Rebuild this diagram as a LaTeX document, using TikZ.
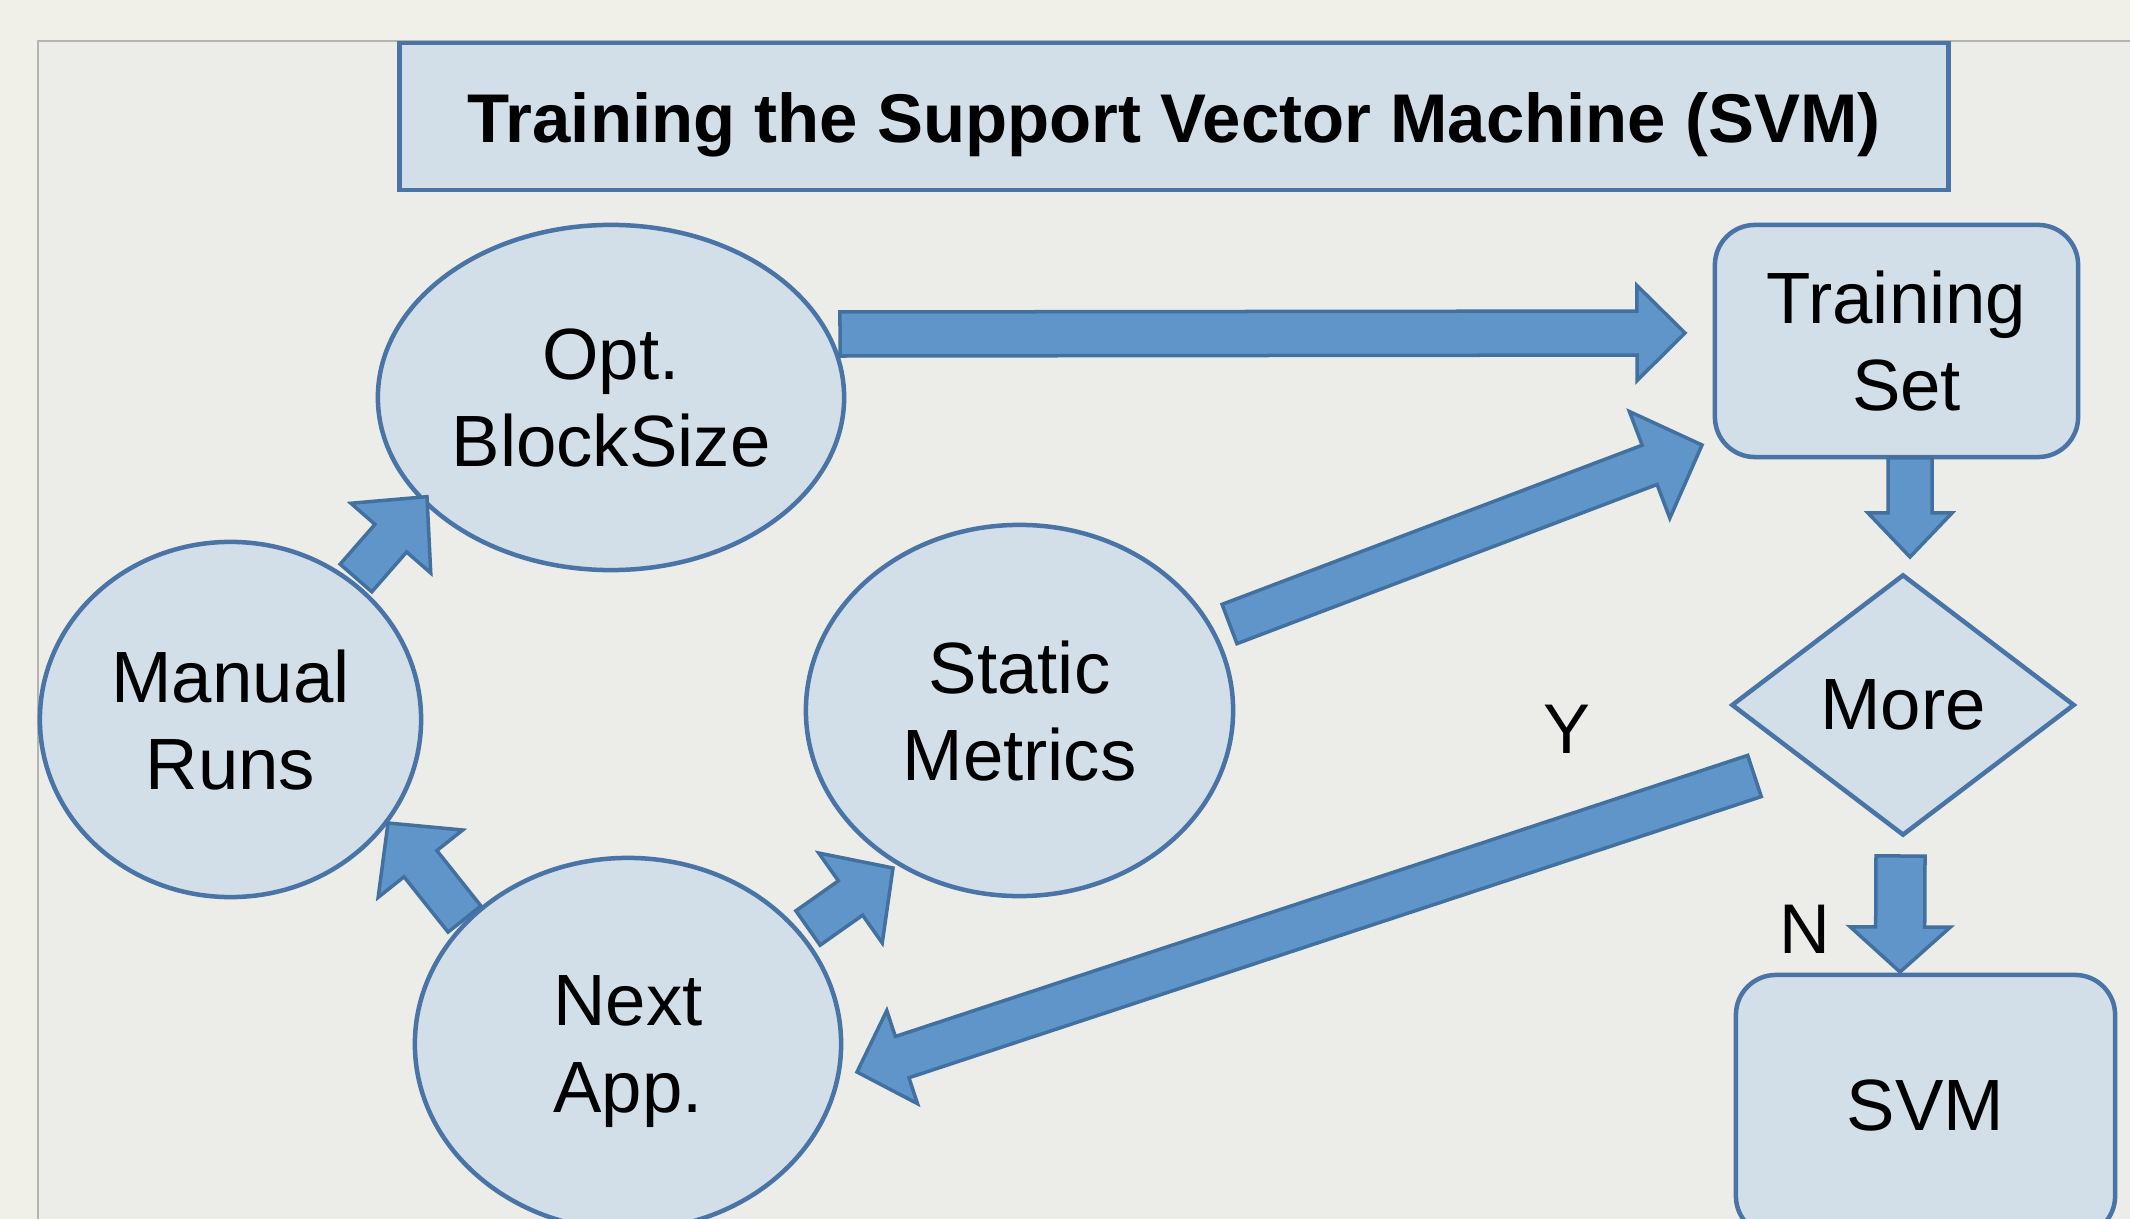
\documentclass[tikz,border=0pt]{standalone}
\usepackage{fontspec}
\setmainfont{Liberation Sans}
\usetikzlibrary{calc,shapes.geometric}
\definecolor{bgout}{HTML}{F0EFE8}
\definecolor{panelc}{HTML}{ECECE9}
\definecolor{panelline}{HTML}{B4B4B0}
\definecolor{nodefill}{HTML}{D2DEE8}
\definecolor{nodeline}{HTML}{4A74A5}
\definecolor{arrfill}{HTML}{5F95C9}
\definecolor{arrline}{HTML}{42719F}
\tikzset{
  nodetext/.style={font=\fontsize{20.65}{24.75}\selectfont, align=center, text=black},
  shapebox/.style={draw=nodeline, fill=nodefill, line width=0.045cm, inner sep=0pt, nodetext},
  oval/.style={shapebox, ellipse},
  rbox/.style={shapebox, rectangle, rounded corners=0.4cm},
  decision/.style={shapebox, diamond},
  barrow/.style={draw=arrline, fill=arrfill, line width=0.035cm, line join=miter},
  yn/.style={font=\fontsize{20}{24}\selectfont, inner sep=0pt, text height=0.5cm, text depth=0pt},
}
% #1 start, #2 tip, #3 shaft half width, #4 head half width, #5 head length
\newcommand\blockarrow[5]{%
  \coordinate (ba-h) at ($(#2)!#5!(#1)$);
  \draw[barrow] ($(#1)!#3!90:(#2)$) -- ($(ba-h)!#3!90:(#2)$) -- ($(ba-h)!#4!90:(#2)$) -- (#2)
    -- ($(ba-h)!#4!-90:(#2)$) -- ($(ba-h)!#3!-90:(#2)$) -- ($(#1)!#3!-90:(#2)$) -- cycle;
}
\begin{document}
\begin{tikzpicture}[x=0.01cm,y=-0.01cm]
\useasboundingbox (0,0) rectangle (2130,1219);
\clip (0,0) rectangle (2130,1219);
\fill[bgout] (0,0) rectangle (2130,1219);
\filldraw[fill=panelc, draw=panelline, line width=0.015cm] (38,41) rectangle (2160,1260);

\node[shapebox, rectangle, minimum width=15.48cm, minimum height=1.47cm,
      font=\bfseries\fontsize{19.6}{23}\selectfont, text height=0.51cm, text depth=0pt]
      (title) at (1174,116.5) {Training the Support Vector Machine (SVM)};

\node[oval, minimum width=4.66cm, minimum height=3.45cm] (opt) at (611,397.5) {Opt.\\\smash{BlockSize}};
\node[oval, minimum width=3.81cm, minimum height=3.55cm] (manual) at (230.5,719.5) {Manual\\\smash{Runs}};
\node[oval, minimum width=4.27cm, minimum height=3.71cm] (static) at (1019.5,710.5) {Static\\\smash{Metrics}};
\node[oval, minimum width=4.26cm, minimum height=3.72cm] (next) at (628,1044) {Next\\\smash{App.}};
\node[rbox, minimum width=3.63cm, minimum height=2.32cm] (ts) at (1896.5,341) {Training\\\hspace*{0.278em}\smash{Set}};
\node[decision, minimum width=3.43cm, minimum height=2.61cm] (more) at (1903,705) {More};
\node[rbox, minimum width=3.79cm, minimum height=2.61cm] (svm) at (1925.5,1105.5) {SVM};

\node[yn] (ylab) at (1567,728) {Y};
\node[yn] (nlab) at (1805,928.5) {N};

\coordinate (a1s) at ($(opt)+(229,-63.5)$);
\coordinate (a1e) at ($(ts)+(-211.5,-8)$);
\coordinate (a2s) at ($(static)+(210,-86.5)$);
\coordinate (a2e) at ($(ts)+(-194.5,104)$);
\coordinate (a3s) at ($(ts)+(13.5,117)$);
\coordinate (a3e) at ($(more)+(7,-148)$);
\coordinate (a4s) at ($(more)+(-2.5,151)$);
\coordinate (a4e) at ($(svm)+(-25.5,-133.5)$);
\coordinate (a5s) at ($(more)+(-148.5,71)$);
\coordinate (a5e) at ($(next)+(229,28)$);
\coordinate (a6s) at ($(manual)+(125.5,-141.5)$);
\coordinate (a6e) at ($(opt)+(-184,99.2)$);
\coordinate (a7s) at ($(next)+(-163.5,-125)$);
\coordinate (a7e) at ($(manual)+(157.5,103.5)$);
\coordinate (a8s) at ($(next)+(180,-116)$);
\coordinate (a8e) at ($(static)+(-126.5,157.5)$);

\blockarrow{a1s}{a1e}{0.22cm}{0.475cm}{0.48cm}
\blockarrow{a2s}{a2e}{0.21cm}{0.57cm}{0.56cm}
\blockarrow{a3s}{a3e}{0.22cm}{0.42cm}{0.44cm}
\blockarrow{a4s}{a4e}{0.245cm}{0.50cm}{0.45cm}
\blockarrow{a5s}{a5e}{0.217cm}{0.49cm}{0.475cm}
\blockarrow{a6s}{a6e}{0.21cm}{0.53cm}{0.55cm}
\blockarrow{a7s}{a7e}{0.21cm}{0.54cm}{0.52cm}
\blockarrow{a8s}{a8e}{0.21cm}{0.55cm}{0.52cm}
\end{tikzpicture}
\end{document}
